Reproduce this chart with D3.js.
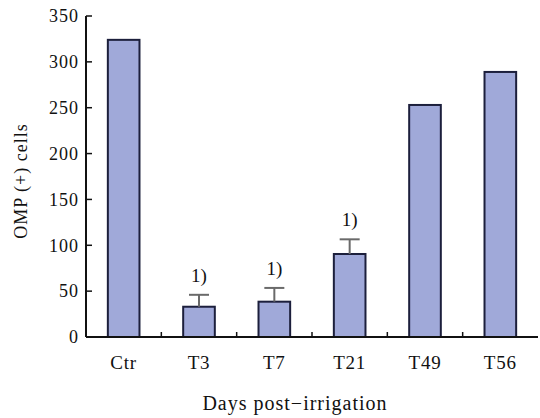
<!DOCTYPE html>
<html>
<head>
<meta charset="utf-8">
<script src="https://cdn.jsdelivr.net/npm/d3@7"></script>
<style>
  body { margin: 0; background: #fff; }
  text { font-family: "Liberation Serif", "DejaVu Serif", serif; fill: #111; }
</style>
</head>
<body>
<svg width="540" height="418"></svg>
<script>
var svg = d3.select('svg');

// data
var groups = ['Ctr', 'T3', 'T7', 'T21', 'T49', 'T56'];
var cells = [324, 33, 38.5, 90.5, 253, 289];
var errUp = [0, 13, 15, 16, 0, 0];
var marks = ['', '1)', '1)', '1)', '', ''];
var yTicks = [0, 50, 100, 150, 200, 250, 300, 350];

var rows = groups.map(function(g, i){
    return {name: g, value: cells[i], err: errUp[i], mark: marks[i]};
});

var x = d3.scaleBand().domain(groups).range([86, 538]).padding(0);
var y = d3.scaleLinear().domain([0, 350]).range([337, 16]);
var barW = x.bandwidth() * 0.42;

// y axis
svg.append('line')
    .attr('x1', 86).attr('x2', 86)
    .attr('y1', y(350)).attr('y2', y(0))
    .attr('stroke', '#111').attr('stroke-width', 2);

svg.selectAll('.ytick')
    .data(yTicks)
    .enter()
    .append('line')
    .attr('x1', 86).attr('x2', 92)
    .attr('y1', function(d){ return y(d); })
    .attr('y2', function(d){ return y(d); })
    .attr('stroke', '#111').attr('stroke-width', 1.5);

svg.selectAll('.ylab')
    .data(yTicks)
    .enter()
    .append('text')
    .attr('x', 79)
    .attr('y', function(d){ return y(d); })
    .attr('dy', '0.35em')
    .attr('text-anchor', 'end')
    .attr('font-size', 18)
    .attr('letter-spacing', 1)
    .text(function(d){ return d; });

// bars
svg.selectAll('rect')
    .data(rows)
    .enter()
    .append('rect')
    .attr('x', function(d){ return x(d.name) + x.bandwidth() / 2 - barW / 2; })
    .attr('y', function(d){ return y(d.value); })
    .attr('width', barW)
    .attr('height', function(d){ return y(0) - y(d.value); })
    .attr('fill', '#a0a9d9')
    .attr('stroke', '#1c1f3c')
    .attr('stroke-width', 2);

// error bars (upper only)
var withErr = rows.filter(function(d){ return d.err > 0; });
var errG = svg.selectAll('.err')
    .data(withErr)
    .enter()
    .append('g')
    .attr('stroke', '#6a6a6a')
    .attr('stroke-width', 2);
errG.append('line')
    .attr('x1', function(d){ return x(d.name) + x.bandwidth() / 2; })
    .attr('x2', function(d){ return x(d.name) + x.bandwidth() / 2; })
    .attr('y1', function(d){ return y(d.value); })
    .attr('y2', function(d){ return y(d.value + d.err); });
errG.append('line')
    .attr('x1', function(d){ return x(d.name) + x.bandwidth() / 2 - 10; })
    .attr('x2', function(d){ return x(d.name) + x.bandwidth() / 2 + 10; })
    .attr('y1', function(d){ return y(d.value + d.err); })
    .attr('y2', function(d){ return y(d.value + d.err); });

svg.selectAll('.mark')
    .data(withErr)
    .enter()
    .append('text')
    .attr('x', function(d){ return x(d.name) + x.bandwidth() / 2; })
    .attr('y', function(d){ return y(d.value + d.err) - 13; })
    .attr('text-anchor', 'middle')
    .attr('font-size', 19)
    .text(function(d){ return d.mark; });

// x axis
svg.append('line')
    .attr('x1', 86).attr('x2', 538)
    .attr('y1', y(0)).attr('y2', y(0))
    .attr('stroke', '#111').attr('stroke-width', 2);

svg.selectAll('.xtick')
    .data(groups.slice(1))
    .enter()
    .append('line')
    .attr('x1', function(d){ return x(d); })
    .attr('x2', function(d){ return x(d); })
    .attr('y1', y(0)).attr('y2', y(0) - 5)
    .attr('stroke', '#111').attr('stroke-width', 1.5);

svg.selectAll('.xlab')
    .data(groups)
    .enter()
    .append('text')
    .attr('x', function(d){ return x(d) + x.bandwidth() / 2; })
    .attr('y', 369)
    .attr('text-anchor', 'middle')
    .attr('font-size', 19)
    .attr('letter-spacing', 0.8)
    .text(function(d){ return d; });

svg.append('text')
    .attr('x', 295)
    .attr('y', 410)
    .attr('text-anchor', 'middle')
    .attr('font-size', 20)
    .attr('letter-spacing', 1)
    .text('Days post\u2212irrigation');

svg.append('text')
    .attr('transform', 'translate(27,181) rotate(-90)')
    .attr('text-anchor', 'middle')
    .attr('font-size', 18)
    .attr('letter-spacing', 1)
    .text('OMP (+) cells');
</script>
</body>
</html>
